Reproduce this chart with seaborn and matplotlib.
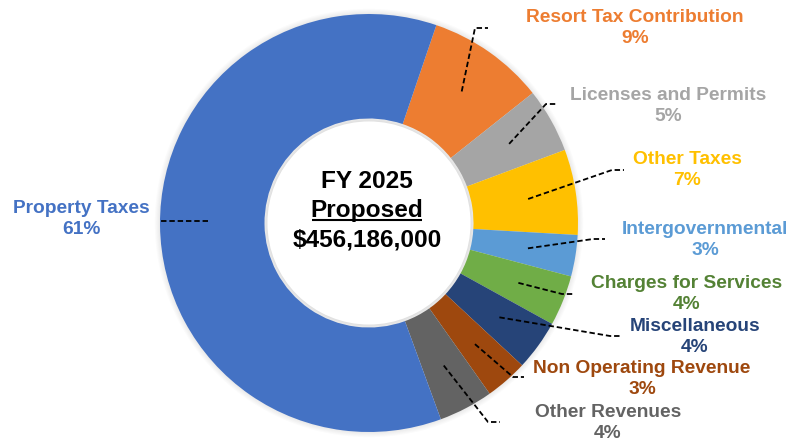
import numpy as np
import matplotlib
matplotlib.use("Agg")
import matplotlib.pyplot as plt
import seaborn as sns

# =====================================
# DATA (millions of $)
# =====================================

categories = [
    "Resort Tax Contribution",
    "Licenses and Permits",
    "Other Taxes",
    "Intergovernmental",
    "Charges for Services",
    "Miscellaneous",
    "Non Operating Revenue",
    "Other Revenues",
    "Property Taxes",
]

amounts = [41.5, 22.8, 30.1, 14.6, 17.8, 17.8, 15.0, 19.2, 277.4]

slice_colors = ["#ED7D31", "#A5A5A5", "#FFC000", "#5B9BD5", "#70AD47",
                "#264478", "#9E480E", "#636363", "#4472C4"]

label_colors = ["#ED7D31", "#A5A5A5", "#FFC000", "#5B9BD5", "#548235",
                "#264478", "#9E480E", "#636363", "#4472C4"]

center_lines = ["FY 2025", "Proposed", "$456,186,000"]

# =====================================
# LAYOUT (pixel positions of labels / leader elbows)
# =====================================

W, H = 801, 444
CX, CY, R = 369, 223, 209

label_pos = [(635, 28), (668, 106), (687, 170), (705, 240), (687, 294),
             (695, 337), (642, 379), (608, 423), (81, 219)]
elbow_pos = [(475, 28), (546, 104), (612, 170), (593, 239), (562, 294),
             (610, 336), (513, 377), (488, 422), (160, 221)]
end_pos = [(488, 28), (557, 104), (624, 170), (605, 239), (575, 294),
           (621, 336), (524, 377), (500, 422), (160, 221)]


def px(x, y):
    return (x - CX) / R, (CY - y) / R


sns.set_theme(style="white")
plt.rcParams["font.family"] = ["Liberation Sans", "DejaVu Sans"]

fig = plt.figure(figsize=(W / 100, H / 100), dpi=100)
ax = fig.add_axes([0, 0, 1, 1])

start = 71.2

# soft shadow round the ring
for k in range(5):
    ax.add_patch(plt.Circle((0, 0), 1.0 + 0.005 * (k + 1), color="black",
                            alpha=0.016, lw=0, zorder=0))

ax.pie(
    amounts,
    colors=slice_colors,
    startangle=start,
    counterclock=False,
    radius=1,
    wedgeprops=dict(width=0.5, edgecolor="none"),
)

ax.set_xlim(-CX / R, (W - CX) / R)
ax.set_ylim(-(H - CY) / R, CY / R)

for k in range(4):
    ax.add_patch(plt.Circle((0, 0), 0.5 - 0.004 * k, color="black",
                            alpha=0.012, lw=0, zorder=3))
ax.add_patch(plt.Circle((0, 0), 0.486, color="white", lw=0, zorder=4))

total = sum(amounts)
cum = np.cumsum([0] + amounts[:-1])

for i, name in enumerate(categories):
    mid = np.deg2rad(start - 360 * (cum[i] + amounts[i] / 2) / total)
    r0 = 0.77
    x0, y0 = r0 * np.cos(mid), r0 * np.sin(mid)
    xe, ye = px(*elbow_pos[i])
    xn, yn = px(*end_pos[i])
    if i == len(categories) - 1:
        y0 = ye
    ax.plot([x0, xe, xn], [y0, ye, yn], color="black", lw=1.3,
            ls=(0, (3, 1.6)), zorder=5)
    pct = round(100 * amounts[i] / total)
    lx, ly = px(*label_pos[i])
    ax.text(lx, ly, f"{name}\n{pct}%", ha="center", va="center",
            color=label_colors[i], fontsize=13.8, fontweight="bold",
            linespacing=1.25, zorder=6)

# center text
ys = [181, 211, 240]
texts = []
for t, y in zip(center_lines, ys):
    cx, cy = px(367, y)
    texts.append(ax.text(cx, cy, t, ha="center", va="center", fontsize=17.6,
                         fontweight="bold", color="black", zorder=6))

ax.set_aspect("equal", adjustable="box")
ax.axis("off")

fig.canvas.draw()
bb = texts[1].get_window_extent().transformed(ax.transData.inverted())
ax.plot([bb.x0 + 0.005, bb.x1 - 0.005], [bb.y0 + 0.014, bb.y0 + 0.014],
        color="black", lw=1.5, zorder=6, solid_capstyle="butt")

fig.savefig("out.png", dpi=100)
